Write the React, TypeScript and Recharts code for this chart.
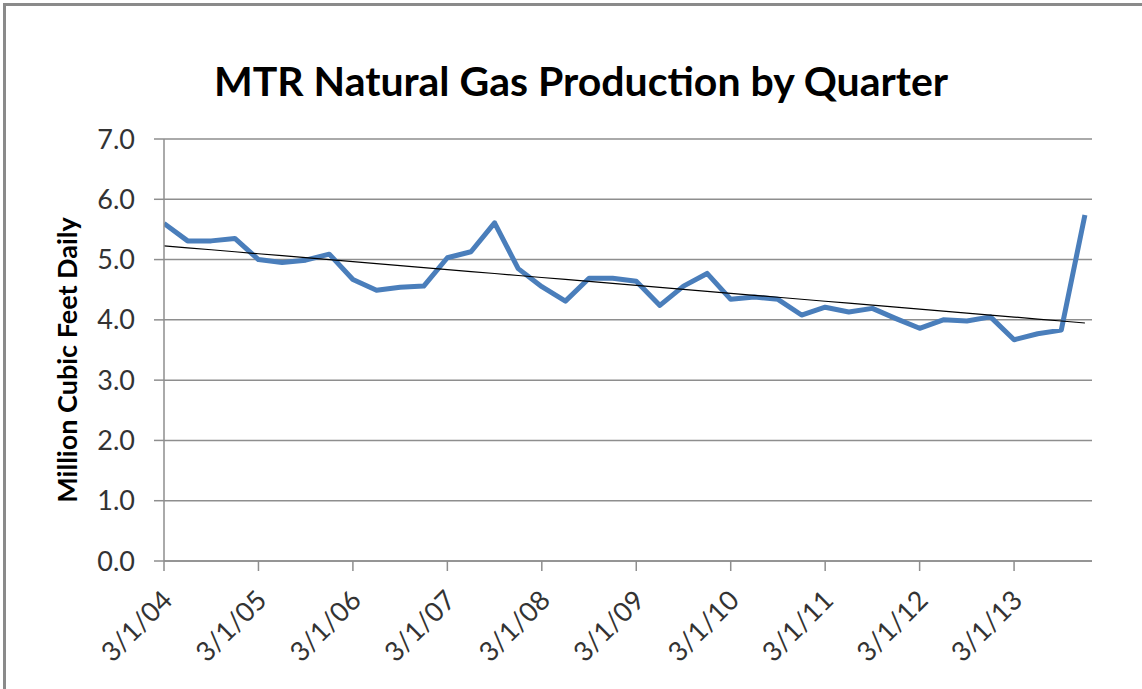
import React from 'react';
import { LineChart, Line, XAxis, YAxis, CartesianGrid } from 'recharts';

// quarterly dates, 2004 Q1 .. 2013 Q4
const quarters = [
  '3/1/04', '6/1/04', '9/1/04', '12/1/04',
  '3/1/05', '6/1/05', '9/1/05', '12/1/05',
  '3/1/06', '6/1/06', '9/1/06', '12/1/06',
  '3/1/07', '6/1/07', '9/1/07', '12/1/07',
  '3/1/08', '6/1/08', '9/1/08', '12/1/08',
  '3/1/09', '6/1/09', '9/1/09', '12/1/09',
  '3/1/10', '6/1/10', '9/1/10', '12/1/10',
  '3/1/11', '6/1/11', '9/1/11', '12/1/11',
  '3/1/12', '6/1/12', '9/1/12', '12/1/12',
  '3/1/13', '6/1/13', '9/1/13', '12/1/13',
];

// million cubic feet daily
const production = [
  5.60, 5.31, 5.31, 5.35,
  5.00, 4.95, 4.99, 5.09,
  4.67, 4.49, 4.54, 4.56,
  5.03, 5.13, 5.61, 4.85,
  4.55, 4.31, 4.69, 4.69,
  4.64, 4.24, 4.56, 4.77,
  4.34, 4.38, 4.34, 4.08,
  4.21, 4.13, 4.19, 4.02,
  3.86, 4.00, 3.98, 4.05,
  3.67, 3.77, 3.83, 5.74,
];

const yTicks = [0, 1, 2, 3, 4, 5, 6, 7];
const xTicks = [0, 4, 8, 12, 16, 20, 24, 28, 32, 36];

// linear trendline (least squares), like Excel's
const n = production.length;
const mx = (n - 1) / 2;
const my = production.reduce((a, b) => a + b, 0) / n;
let sxy = 0;
let sxx = 0;
production.forEach((v, i) => {
  sxy += (i - mx) * (v - my);
  sxx += (i - mx) * (i - mx);
});
const slope = sxy / sxx;
const intercept = my - slope * mx;

const data = production.map((v, i) => ({
  idx: i,
  date: quarters[i],
  value: v,
  trend: intercept + slope * i,
}));

const FONT = 'Lato, "Open Sans", sans-serif';
const GRID = '#8E8E8E';

function DateTick(props: any) {
  const { x, y, payload } = props;
  return (
    <g transform={`translate(${x + 10},${y + 31})`}>
      <text
        x={0}
        y={0}
        textAnchor="end"
        transform="rotate(-45)"
        fontFamily={FONT}
        fontSize={27}
        fill="#333"
      >
        {quarters[payload.value]}
      </text>
    </g>
  );
}

export default function App() {
  return (
    <div
      style={{
        position: 'absolute',
        left: 0,
        top: 0,
        width: 1142,
        height: 689,
        overflow: 'hidden',
        background: '#fff',
      }}
    >
      <div
        style={{
          position: 'absolute',
          left: 3,
          top: 3,
          width: 1400,
          height: 900,
          border: '3px solid #8a8a8a',
        }}
      />
      <div
        style={{
          position: 'absolute',
          left: 181,
          width: 800,
          top: 60,
          lineHeight: '42px',
          textAlign: 'center',
          fontFamily: FONT,
          fontWeight: 700,
          fontSize: 41,
          color: '#000',
        }}
      >
        MTR Natural Gas Production by Quarter
      </div>
      <div style={{ position: 'absolute', left: 0, top: 0 }}>
        <LineChart
          width={1142}
          height={689}
          data={data}
          margin={{ top: 139, right: 50, bottom: 0, left: 0 }}
        >
          <CartesianGrid vertical={false} stroke={GRID} strokeWidth={1.5} />
          <XAxis
            dataKey="idx"
            type="number"
            domain={[0, 39.3]}
            ticks={xTicks}
            interval={0}
            allowDataOverflow
            height={128}
            tickSize={10}
            tickMargin={0}
            axisLine={{ stroke: GRID, strokeWidth: 1.5 }}
            tickLine={{ stroke: GRID, strokeWidth: 1.5 }}
            tick={<DateTick />}
          />
          <YAxis
            type="number"
            domain={[0, 7]}
            ticks={yTicks}
            interval={0}
            width={164}
            tickSize={10}
            tickMargin={19}
            tickFormatter={(v: number) => v.toFixed(1)}
            axisLine={{ stroke: GRID, strokeWidth: 1.5 }}
            tickLine={{ stroke: GRID, strokeWidth: 1.5 }}
            tick={{ fontFamily: FONT, fontSize: 27, fill: '#333' }}
            label={{
              content: () => (
                <text
                  x={66}
                  y={360}
                  transform="rotate(-90, 66, 360)"
                  textAnchor="middle"
                  dominantBaseline="central"
                  fontFamily={FONT}
                  fontWeight={700}
                  fontSize={27}
                  fill="#000"
                >
                  Million Cubic Feet Daily
                </text>
              ),
            }}
          />
          <Line
            dataKey="value"
            stroke="#4A7EBB"
            strokeWidth={5}
            strokeLinejoin="round"
            dot={false}
            isAnimationActive={false}
          />
          <Line
            dataKey="trend"
            stroke="#000"
            strokeWidth={1.2}
            dot={false}
            isAnimationActive={false}
          />
        </LineChart>
      </div>
    </div>
  );
}
